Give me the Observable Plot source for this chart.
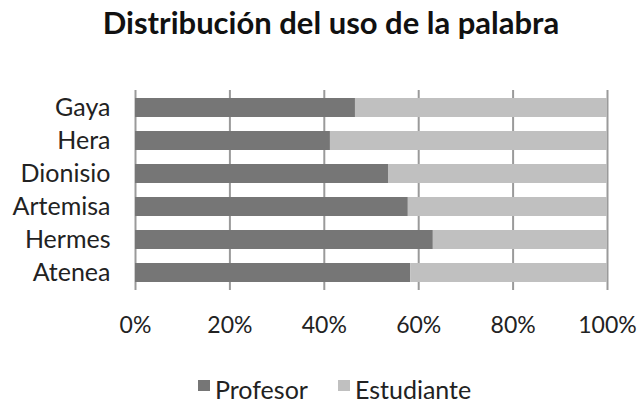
<!DOCTYPE html>
<html>
<head>
<meta charset="utf-8">
<script src="https://cdn.jsdelivr.net/npm/d3@7"></script>
<script src="https://cdn.jsdelivr.net/npm/@observablehq/plot@0.6"></script>
<style>
  html, body { margin: 0; padding: 0; background: #fff; }
  #wrap { position: relative; width: 640px; height: 404px; font-family: Lato, "Open Sans", sans-serif; color: #222; overflow: hidden; }
  #title { position: absolute; top: 4px; left: 11px; width: 640px; text-align: center; font-size: 31px; line-height: 37px; font-weight: bold; color: #111; white-space: nowrap; }
  #legend { position: absolute; top: 376px; left: 198px; display: flex; align-items: flex-start; font-size: 25px; line-height: 26px; color: #222; white-space: nowrap; }
  .sw { display: inline-block; width: 12px; height: 11px; margin-top: 4px; margin-right: 5px; }
  .item { display: flex; align-items: flex-start; }
</style>
</head>
<body>
<div id="wrap">
  <div id="chart"></div>
  <div id="title"></div>
  <div id="legend"></div>
</div>
<script>
const titleText = "Distribución del uso de la palabra";
const categories = ["Gaya", "Hera", "Dionisio", "Artemisa", "Hermes", "Atenea"];
const series = ["Profesor", "Estudiante"];
const profesor = [46.6, 41.3, 53.6, 57.8, 63.1, 58.3];
const estudiante = [53.4, 58.7, 46.4, 42.2, 36.9, 41.7];
const xTicks = [0, 20, 40, 60, 80, 100];
const colors = ["#767676", "#c0c0c0"];

const data = [];
categories.forEach((c, i) => {
  data.push({cat: c, series: series[0], value: profesor[i]});
  data.push({cat: c, series: series[1], value: estudiante[i]});
});

const chart = Plot.plot({
  width: 640,
  height: 404,
  marginTop: 90,
  marginBottom: 114,
  marginLeft: 135,
  marginRight: 33,
  style: {fontFamily: "Lato, 'Open Sans', sans-serif", color: "#222", background: "#fff"},
  x: {domain: [0, 100]},
  y: {domain: categories, paddingInner: 0.43, paddingOuter: 0.215},
  color: {domain: series, range: colors},
  marks: [
    Plot.ruleX(xTicks, {stroke: "#9a9a9a", strokeWidth: 2}),
    Plot.barX(data, Plot.stackX({y: "cat", x: "value", fill: "series", order: series})),
    Plot.axisX({ticks: xTicks, tickFormat: d => d + "%", tickSize: 0, tickPadding: 26, fontSize: 23, label: null}),
    Plot.axisY({tickSize: 0, tickPadding: 25, fontSize: 25, label: null})
  ]
});
document.getElementById("chart").appendChild(chart);
document.getElementById("title").textContent = titleText;

const legend = d3.select("#legend");
series.forEach((s, i) => {
  const item = legend.append("div").attr("class", "item").style("margin-right", i === 0 ? "30px" : "0");
  item.append("span").attr("class", "sw").style("background", colors[i]);
  item.append("span").text(s);
});
</script>
</body>
</html>
